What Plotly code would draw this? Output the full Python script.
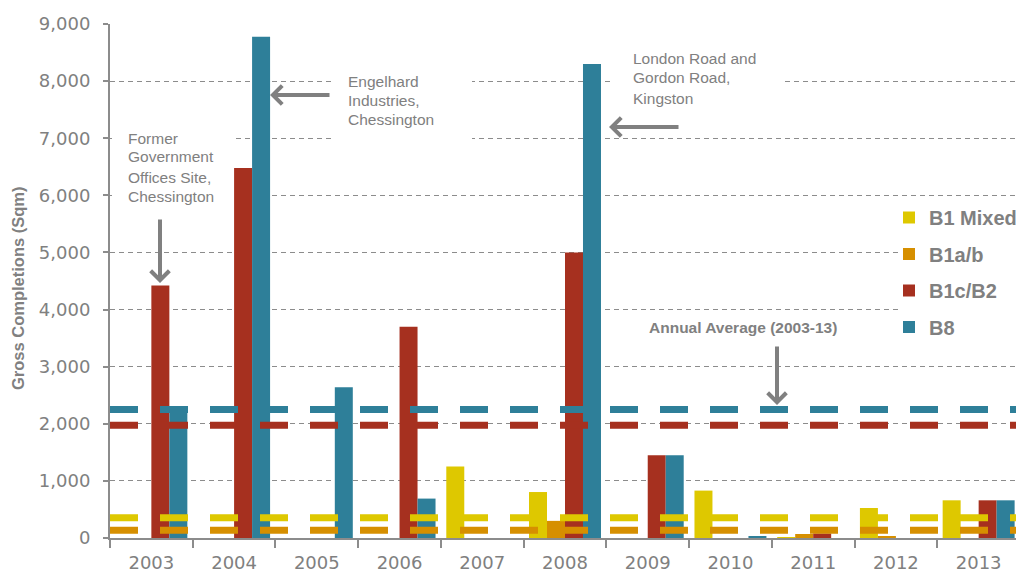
import plotly.graph_objects as go

# ---- data ----
years = ["2003", "2004", "2005", "2006", "2007", "2008", "2009", "2010", "2011", "2012", "2013"]
series_names = ["B1 Mixed", "B1a/b", "B1c/B2", "B8"]
b1_mixed = [0, 0, 0, 0, 1250, 805, 0, 830, 15, 525, 660]
b1_ab = [0, 0, 0, 0, 0, 300, 0, 0, 70, 20, 0]
b1c_b2 = [4420, 6480, 0, 3700, 0, 5000, 1450, 0, 80, 0, 660]
b8 = [2260, 8775, 2640, 690, 0, 8300, 1450, 35, 0, 0, 660]
annual_avg = [355, 135, 1975, 2250]   # B1 Mixed, B1a/b, B1c/B2, B8
y_ticks = list(range(0, 9001, 1000))

colors = ["#DEC800", "#D68F00", "#A6301F", "#2E7F99"]
GRAY = "#808080"
AXIS = "#8c8c8c"

# plot-area frame in screen pixels (page body adds an 8px offset)
OFF = 8
L, R, T, B = 110, 1020, 24, 538
def fx(p):
    return (p - L) / (R - L)
def fy(p):
    return (B - p) / (B - T)

fig = go.Figure()
for name, vals, col in zip(series_names, [b1_mixed, b1_ab, b1c_b2, b8], colors):
    fig.add_trace(go.Bar(x=years, y=vals, name=name, marker_color=col,
                         marker_line_width=0, legendgroup=name))

for avg, col in zip(annual_avg, colors):
    fig.add_trace(go.Scatter(x=[0, 1], y=[avg, avg], xaxis="x2", mode="lines",
                             line=dict(color=col, width=7, dash="28px,22px"),
                             showlegend=False, hoverinfo="skip"))

fig.update_layout(
    width=1024, height=572,
    margin=dict(l=L - OFF, r=1024 - (R - OFF), t=T - OFF, b=572 - (B - OFF), autoexpand=False),
    paper_bgcolor="white", plot_bgcolor="white",
    barmode="group", bargap=0.13, bargroupgap=0,
    font=dict(family="DejaVu Sans", color=GRAY),
    xaxis=dict(type="category", tickson="boundaries", ticks="outside", ticklen=8,
               tickwidth=2, tickcolor=AXIS, showline=True, linecolor=AXIS, linewidth=2,
               showgrid=False, automargin=False, ticklabelstandoff=7,
               tickfont=dict(size=18, family="DejaVu Sans", color=GRAY)),
    xaxis2=dict(overlaying="x", range=[0, 1], visible=False),
    yaxis=dict(range=[0, 9000], tickvals=y_ticks, tickformat=",", ticks="outside",
               ticklen=5, tickwidth=2, tickcolor=AXIS, showline=True, linecolor=AXIS,
               linewidth=2, showgrid=True, gridcolor=AXIS, gridwidth=1,
               griddash="5px,4px", zeroline=False, automargin=False,
               tickfont=dict(size=18, family="DejaVu Sans", color=GRAY),
               ticklabelstandoff=9),
    legend=dict(x=fx(889), y=fy(198), xanchor="left", yanchor="top",
                font=dict(size=20, family="Liberation Sans", color=GRAY, weight="bold"),
                bgcolor="rgba(0,0,0,0)", traceorder="grouped", tracegroupgap=7.5),
    showlegend=True,
)

# white masks hiding gridlines behind notes and legend (no bars in these areas)
for x0, x1, y0, y1 in [(112, 232, 125, 212), (332, 472, 65, 145),
                       (612, 785, 40, 112), (902, 1020, 205, 355)]:
    fig.add_shape(type="rect", xref="paper", yref="paper",
                  x0=fx(x0), x1=fx(x1), y0=fy(y1), y1=fy(y0),
                  fillcolor="white", line_width=0, layer="above")

def add_lines(lines, xleft, centers, size=15.5, bold=False, anchor="left"):
    for txt, cy in zip(lines, centers):
        fig.add_annotation(text=txt, xref="paper", yref="paper", x=fx(xleft), y=fy(cy),
                           xanchor=anchor, yanchor="middle", showarrow=False,
                           font=dict(size=size, family="Liberation Sans", color=GRAY,
                                     weight="bold" if bold else "normal"))

add_lines(["Former", "Government", "Offices Site,", "Chessington"], 126, [138, 157, 177, 196])
add_lines(["Engelhard", "Industries,", "Chessington"], 346, [81, 100, 119])
add_lines(["London Road and", "Gordon Road,", "Kingston"], 631, [59, 78, 98])
add_lines(["Annual Average (2003-13)"], 743, [327], size=15.5, bold=True, anchor="center")

fig.add_annotation(text="Gross Completions (Sqm)", xref="paper", yref="paper",
                   x=fx(18), y=fy(288), textangle=-90, showarrow=False,
                   xanchor="center", yanchor="middle",
                   font=dict(size=16.5, family="Liberation Sans", color=GRAY, weight="bold"))

def add_arrow(tipx, tipy, ax, ay):
    fig.add_annotation(text="", xref="paper", yref="paper", x=fx(tipx), y=fy(tipy),
                       ax=ax, ay=ay, showarrow=True, arrowhead=4, arrowsize=0.9,
                       arrowwidth=4, arrowcolor=GRAY)

add_arrow(160, 283, 0, -65)
add_arrow(270, 95, 61, 0)
add_arrow(609, 127, 71, 0)
add_arrow(777, 405, 0, -60)

fig.write_html("out.html")
